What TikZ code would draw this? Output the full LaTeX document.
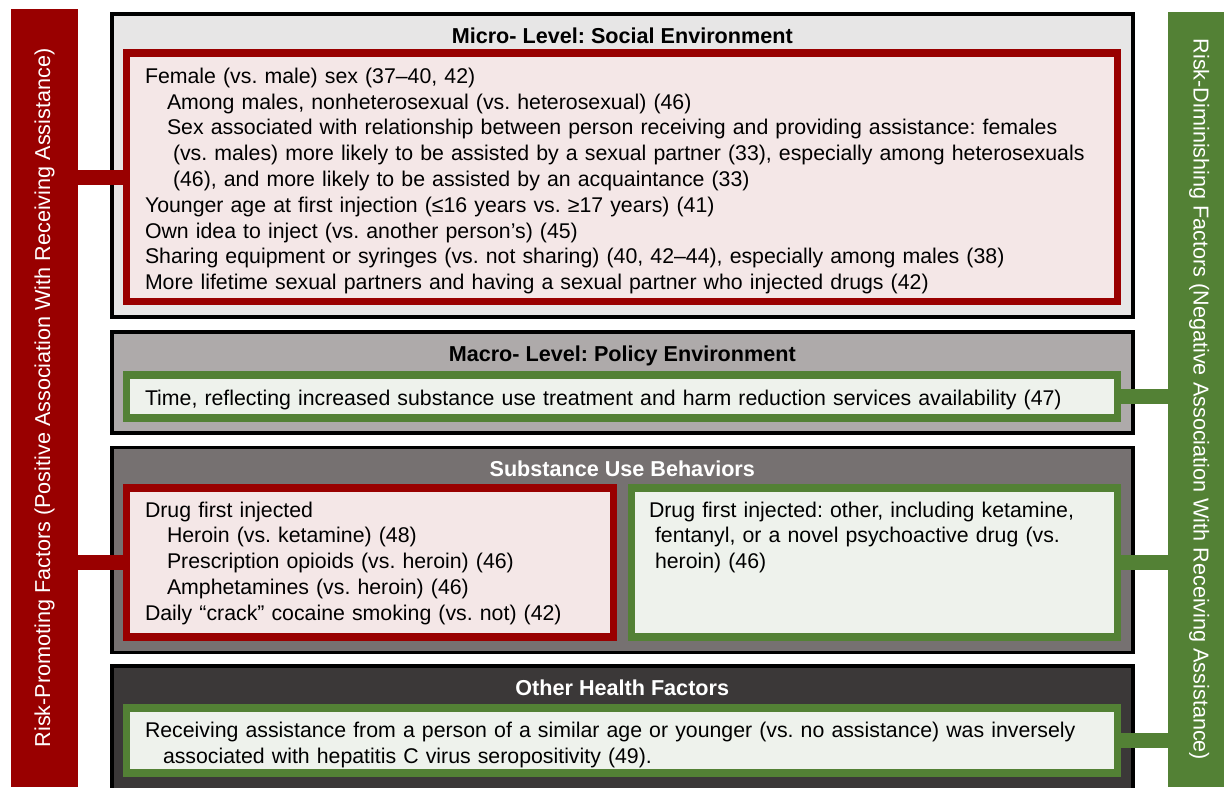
\documentclass[tikz,border=0pt]{standalone}
\usepackage{fontspec}
\setmainfont{Liberation Sans}
\usetikzlibrary{fit}

\definecolor{riskred}{HTML}{990000}
\definecolor{riskgreen}{HTML}{538135}
\definecolor{pinkfill}{HTML}{F4E7E7}
\definecolor{mintfill}{HTML}{EEF2EC}
\definecolor{microgray}{HTML}{E7E6E6}
\definecolor{macrogray}{HTML}{AEAAAA}
\definecolor{usegray}{HTML}{767171}
\definecolor{healthgray}{HTML}{3B3838}

\begin{document}
\frenchspacing
\begin{tikzpicture}[x=0.5pt, y=-0.5pt,
  every node/.style={font=\fontsize{10.8}{12.9}\selectfont, inner sep=0pt, outer sep=0pt},
  level/.style={draw=black, line width=1.75pt, fit={#1}},
  promo/.style={draw=riskred, fill=pinkfill, line width=3.75pt, fit={#1}},
  protect/.style={draw=riskgreen, fill=mintfill, line width=3.75pt, fit={#1}},
  bar/.style={fit={#1}},
  ttl/.style={anchor=base, font=\fontsize{10.8}{12.9}\selectfont\bfseries},
  body/.style={anchor=base west, align=left, text width=#1,
    font=\fontsize{10.65}{12.9}\selectfont},
  wire/.style={line width=7.5pt}]
 \useasboundingbox (0,0) rectangle (1224,787);

 \node[bar={(10.7,9) (78.3,787)}, fill=riskred] (promobar) {};
 \node[bar={(1168.3,12) (1230,787)}, fill=riskgreen] (diminbar) {};

 \node[level={(111.75,13.75) (1132.75,316.75)}, fill=microgray] (micro) {};
 \node[level={(111.75,331.75) (1132.75,432.75)}, fill=macrogray] (macro) {};
 \node[level={(111.75,447.25) (1132.75,652.25)}, fill=usegray] (use) {};
 \node[level={(111.75,665.75) (1132.75,800)}, fill=healthgray] (health) {};

 \node[promo={(126.45,53) (1117.25,301.25)}] (microrisk) {};
 \node[protect={(126.45,374.75) (1117.25,418)}] (macroprot) {};
 \node[promo={(126.45,488) (613.5,637)}] (userisk) {};
 \node[protect={(631.45,488) (1117.25,637)}] (useprot) {};
 \node[protect={(126.45,707.75) (1117.25,773)}] (healthprot) {};

 \draw[wire, riskred] (microrisk.west) -- (microrisk.west -| promobar.east);
 \draw[wire, riskred] (userisk.west) -- (userisk.west -| promobar.east);
 \draw[wire, riskgreen] (macroprot.east) -- (macroprot.east -| diminbar.west);
 \draw[wire, riskgreen] (useprot.east) -- (useprot.east -| diminbar.west);
 \draw[wire, riskgreen] (healthprot.east) -- (healthprot.east -| diminbar.west);

 \node[rotate=90, text=white] (promotxt) at (promobar.center)
  {Risk-Promoting Factors (Positive Association With Receiving Assistance)};
 \node[rotate=-90, text=white] (dimintxt) at (diminbar.center)
  {Risk-Diminishing Factors (Negative Association With Receiving Assistance)};

 \node[ttl] (microttl) at (622.25,43.3) {Micro- Level: Social Environment};
 \node[ttl] (macrottl) at (622.25,361.3) {Macro- Level: Policy Environment};
 \node[ttl, text=white] (usettl) at (622.25,476.8) {Substance Use Behaviors};
 \node[ttl, text=white] (healthttl) at (622.25,695.3) {Other Health Factors};

 \node[body=490pt] (microtxt) at (145,83.3) {Female (vs. male) sex (37–40, 42)\\
  \hspace*{11pt}Among males, nonheterosexual (vs. heterosexual) (46)\\
  \hspace*{11pt}Sex associated with relationship between person receiving and providing assistance: females\\
  \hspace*{14pt}(vs. males) more likely to be assisted by a sexual partner (33), especially among heterosexuals\\
  \hspace*{14pt}(46), and more likely to be assisted by an acquaintance (33)\\
  Younger age at first injection (≤16 years vs. ≥17 years) (41)\\
  Own idea to inject (vs. another person’s) (45)\\
  Sharing equipment or syringes (vs. not sharing) (40, 42–44), especially among males (38)\\
  More lifetime sexual partners and having a sexual partner who injected drugs (42)};

 \node[body=490pt] (macrotxt) at (145,405)
  {Time, reflecting increased substance use treatment and harm reduction services availability (47)};

 \node[body=230pt] (usetxt) at (145,517) {Drug first injected\\
  \hspace*{11pt}Heroin (vs. ketamine) (48)\\
  \hspace*{11pt}Prescription opioids (vs. heroin) (46)\\
  \hspace*{11pt}Amphetamines (vs. heroin) (46)\\
  Daily “crack” cocaine smoking (vs. not) (42)};

 \node[body=230pt] (otheruse) at (649,517) {Drug first injected: other, including ketamine,\\
  \hspace*{3pt}fentanyl, or a novel psychoactive drug (vs.\\
  \hspace*{3pt}heroin) (46)};

 \node[body=490pt] (healthtxt) at (145,737.3) {Receiving assistance from a person of a similar age or younger (vs. no assistance) was inversely\\
  \hspace*{9pt}associated with hepatitis C virus seropositivity (49).};

\end{tikzpicture}
\end{document}
